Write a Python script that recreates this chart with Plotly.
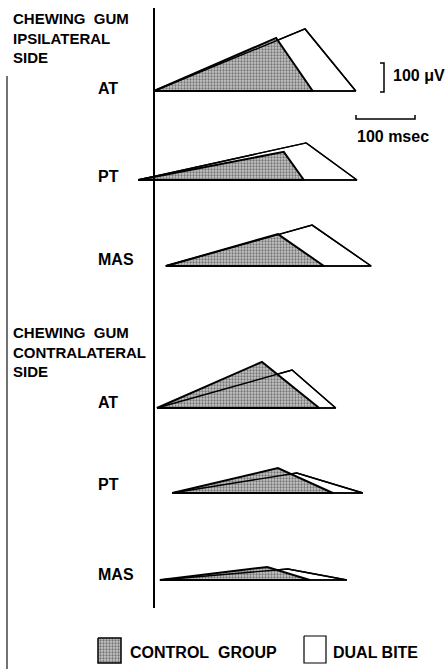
import plotly.graph_objects as go

# ---------------- data (ms, µV) ----------------
panels = ["AT", "PT", "MAS", "AT", "PT", "MAS"]
onset_ms = [0, -27, 20, 5, 31, 10]
control_peak_ms = [207, 220, 210, 183, 210, 192]
control_peak_uv = [183, 97, 110, 159, 86, 45]
control_end_ms = [269, 254, 288, 280, 303, 264]
dual_peak_ms = [256, 258, 268, 234, 242, 227]
dual_peak_uv = [214, 128, 141, 131, 69, 38]
dual_end_ms = [342, 344, 368, 308, 354, 327]
group_titles = ["CHEWING&nbsp; GUM<br>IPSILATERAL<br>SIDE", "CHEWING&nbsp; GUM<br>CONTRALATERAL<br>SIDE"]
legend_labels = ["CONTROL&nbsp; GROUP", "DUAL BITE"]

# ---------------- layout constants ----------------
W, H = 447, 669
X0 = 154            # pixel x of time zero
MS_PX = 0.59        # pixels per ms
UV_PX = 0.29        # pixels per µV
baselines_px = [91, 180, 266, 408, 493, 580]
label_y_px = [88, 176, 259, 402, 484, 574]
FONT = dict(family="Liberation Sans, Arial, sans-serif", size=16, color="black", weight="bold")
TITLE_FONT = dict(FONT, size=15)

def ypx_to_uv(py):
    return -py / UV_PX

def px(x):
    return x / W

def py(y):
    return 1 - y / H

fig = go.Figure()
stipple = dict(shape=".", fgcolor="#222222", bgcolor="#c6c6c6", size=3, solidity=0.45)

for i in range(len(panels)):
    off = ypx_to_uv(baselines_px[i])
    dx = [onset_ms[i], dual_peak_ms[i], dual_end_ms[i], onset_ms[i]]
    dy = [off, off + dual_peak_uv[i], off, off]
    cx = [onset_ms[i], control_peak_ms[i], control_end_ms[i], onset_ms[i]]
    cy = [off, off + control_peak_uv[i], off, off]
    fig.add_trace(go.Scatter(x=dx, y=dy, mode="lines", fill="toself", fillcolor="white",
                             line=dict(color="black", width=1.4), hoverinfo="skip", showlegend=False))
    fig.add_trace(go.Scatter(x=cx, y=cy, mode="lines", fill="toself", fillpattern=stipple,
                             line=dict(color="black", width=2), hoverinfo="skip", showlegend=False))
    fig.add_trace(go.Scatter(x=dx, y=dy, mode="lines",
                             line=dict(color="black", width=1.4), hoverinfo="skip", showlegend=False))
    fig.add_annotation(x=px(96), y=py(label_y_px[i]), xref="paper", yref="paper", text=panels[i],
                       showarrow=False, xanchor="left", yanchor="middle", font=FONT)

for t, yc in zip(group_titles, [38, 352]):
    fig.add_annotation(x=px(11), y=py(yc), xref="paper", yref="paper", text=t, showarrow=False,
                       xanchor="left", yanchor="middle", align="left", font=TITLE_FONT)

# vertical time-zero axis
fig.add_shape(type="line", x0=0, x1=0, y0=ypx_to_uv(8), y1=ypx_to_uv(608),
              line=dict(color="black", width=2))
# left edge rule
fig.add_shape(type="line", xref="paper", yref="paper", x0=px(7), x1=px(7), y0=py(76), y1=0,
              line=dict(color="#444", width=1.5))

# scale bars: 100 µV and 100 ms
sb_x = (384 - X0) / MS_PX
base_v = ypx_to_uv(92)
tick = 4 / MS_PX
fig.add_trace(go.Scatter(x=[sb_x - tick, sb_x, sb_x, sb_x - tick], y=[base_v + 100, base_v + 100, base_v, base_v],
                         mode="lines", line=dict(color="black", width=1.5), hoverinfo="skip", showlegend=False))
hb_x = (356 - X0) / MS_PX
hb_y = ypx_to_uv(119)
tk = 4 / UV_PX
fig.add_trace(go.Scatter(x=[hb_x, hb_x, hb_x + 100, hb_x + 100], y=[hb_y + tk, hb_y, hb_y, hb_y + tk],
                         mode="lines", line=dict(color="black", width=1.5), hoverinfo="skip", showlegend=False))
fig.add_annotation(x=px(391), y=py(76), xref="paper", yref="paper", text="100 μV", showarrow=False,
                   xanchor="left", yanchor="middle", font=FONT)
fig.add_annotation(x=px(393), y=py(136), xref="paper", yref="paper", text="100 msec", showarrow=False,
                   xanchor="center", yanchor="middle", font=FONT)

def box(x0p, x1p, y0p, y1p):
    xs = [(x0p - X0) / MS_PX, (x1p - X0) / MS_PX, (x1p - X0) / MS_PX, (x0p - X0) / MS_PX, (x0p - X0) / MS_PX]
    ys = [ypx_to_uv(y0p), ypx_to_uv(y0p), ypx_to_uv(y1p), ypx_to_uv(y1p), ypx_to_uv(y0p)]
    return xs, ys

bx, by = box(98, 121, 638, 663)
fig.add_trace(go.Scatter(x=bx, y=by, mode="lines", fill="toself", fillpattern=stipple,
                         line=dict(color="black", width=1.5), hoverinfo="skip", showlegend=False))
bx, by = box(304, 326, 636, 663)
fig.add_trace(go.Scatter(x=bx, y=by, mode="lines", fill="toself", fillcolor="white",
                         line=dict(color="black", width=1.2), hoverinfo="skip", showlegend=False))
fig.add_annotation(x=px(128), y=py(652), xref="paper", yref="paper", text=legend_labels[0], showarrow=False,
                   xanchor="left", yanchor="middle", font=FONT)
fig.add_annotation(x=px(331), y=py(652), xref="paper", yref="paper", text=legend_labels[1], showarrow=False,
                   xanchor="left", yanchor="middle", font=FONT)

fig.update_layout(
    width=W, height=H, autosize=False,
    margin=dict(l=0, r=0, t=0, b=0),
    paper_bgcolor="white", plot_bgcolor="white",
    xaxis=dict(range=[-X0 / MS_PX, (W - X0) / MS_PX], visible=False, fixedrange=True),
    yaxis=dict(range=[ypx_to_uv(H), 0], visible=False, fixedrange=True),
    showlegend=False,
)

fig.write_html("out.html", config={"displayModeBar": False},
               post_script="document.body.style.margin='0';document.body.style.overflow='hidden';")
